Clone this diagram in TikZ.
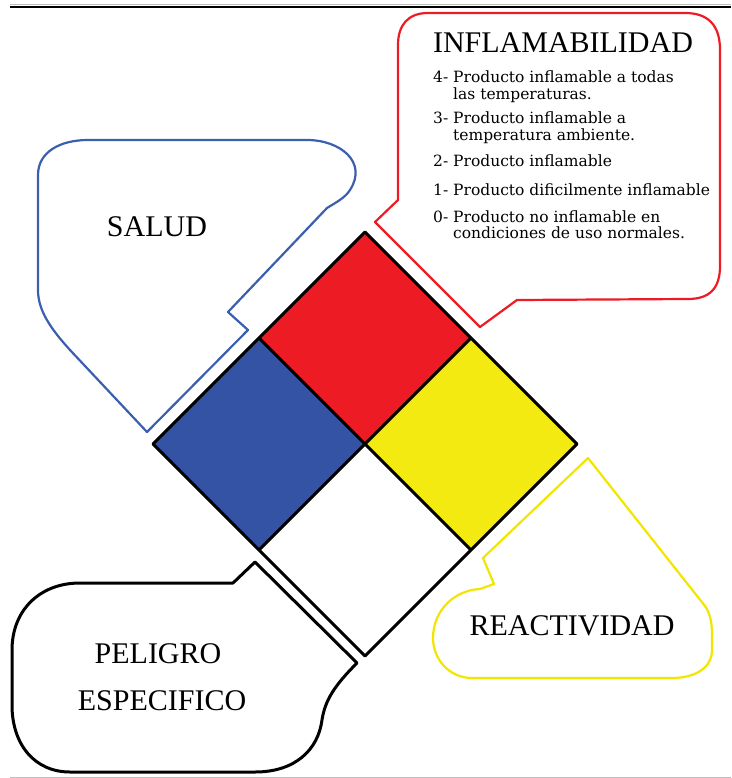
\documentclass[tikz,border=0pt]{standalone}
\usepackage{fontspec}
\setmainfont{Liberation Serif}
\newfontfamily\itemfont{DejaVu Serif}
\definecolor{firered}{HTML}{ED1C24}
\definecolor{healthblue}{HTML}{3453A4}
\definecolor{reactyellow}{HTML}{F2EA10}
\definecolor{bubbleblue}{HTML}{3A5FAE}
\definecolor{bubbleyellow}{HTML}{F2E600}
\newcommand{\twolines}[2]{\begin{tabular}[t]{@{}l@{}}#1\\\hspace*{20pt}#2\end{tabular}}

\begin{document}
\begin{tikzpicture}[x=1pt,y=-1pt,
  title/.style={font=\fontsize{30}{30}\selectfont, inner sep=0pt, anchor=base},
  item/.style={font=\itemfont\fontsize{15.5}{16}\selectfont, inner sep=0pt, anchor=base west},
  frame/.style={line width=3pt, line join=round},
  bubble/.style={line width=2.2pt, line join=round, fill=white}]
\useasboundingbox (0,0) rectangle (731,778);

% page rules
\coordinate (rulea) at (10,7);
\coordinate (ruleb) at (731,7);
\coordinate (rulec) at (10,777);
\coordinate (ruled) at (731,777);
\draw[line width=2pt] (rulea) -- (ruleb);
\draw[gray!50, line width=1pt] ([yshift=2.5pt]rulea) -- ([yshift=2.5pt]ruleb);
\draw[gray!50, line width=1pt] (rulec) -- (ruled);

% diamond
\coordinate (T) at (365,232);
\coordinate (L) at (153,444);
\coordinate (R) at (577,444);
\coordinate (B) at (365,656);
\coordinate (C) at (365,444);
\coordinate (TL) at (259,338);
\coordinate (TR) at (471,338);
\coordinate (BL) at (259,550);
\coordinate (BR) at (471,550);

% bubbles
\draw[bubble, draw=firered] (375,222) -- (480,327) -- (517,300) -- (688,299)
  .. controls (710,299) and (720,288) .. (720,266) -- (720,50)
  .. controls (720,25) and (708,13) .. (685,13) -- (428,13)
  .. controls (408,13) and (398,25) .. (398,45) -- (398,200) -- cycle;
\draw[bubble, draw=bubbleblue] (88,140) -- (307,140)
  .. controls (340,140) and (368,162) .. (350,190)
  .. controls (345,198) and (335,203) .. (327,208) -- (228,312) -- (248,330) -- (147,432)
  -- (70,350) .. controls (50,328) and (38,310) .. (38,290) -- (38,175)
  .. controls (38,152) and (60,140) .. (88,140) -- cycle;
\draw[bubble, draw=bubbleyellow] (588,458) -- (705,606)
  .. controls (710,613) and (712,622) .. (712,635) -- (712,650)
  .. controls (712,668) and (695,678) .. (672,678) -- (472,678)
  .. controls (450,678) and (433,660) .. (433,638)
  .. controls (433,610) and (455,590) .. (480,589) -- (494,584) -- (483,558) -- cycle;
\draw[bubble, draw=black, line width=3pt] (80,583) -- (233,583) -- (255,562) -- (357,663)
  .. controls (335,685) and (325,700) .. (322,720)
  .. controls (318,750) and (295,772) .. (255,772) -- (70,772)
  .. controls (35,772) and (12,745) .. (12,705) -- (12,650)
  .. controls (12,610) and (40,583) .. (80,583) -- cycle;

% squares
\fill[firered] (T) -- (TR) -- (C) -- (TL) -- cycle;
\fill[healthblue] (TL) -- (C) -- (BL) -- (L) -- cycle;
\fill[reactyellow] (TR) -- (R) -- (BR) -- (C) -- cycle;
\fill[white] (C) -- (BR) -- (B) -- (BL) -- cycle;
\draw[frame] (T) -- (R) -- (B) -- (L) -- cycle;
\path[frame]
  (TL) edge (BR)
  (TR) edge (BL);

% labels
\node[title] (salud) at (157,236) {SALUD};
\node[title] (inflam) at (563,53) {INFLAMABILIDAD};
\node[title] (reactiv) at (572,635) {REACTIVIDAD};
\node[title] (peligro) at (158,663) {PELIGRO};
\node[title] (especif) at (162,710) {ESPECIFICO};

\node[item] (cuatro) at (433,83) {\twolines{4- Producto inflamable a todas}{las temperaturas.}};
\node[item] (tres) at (433,124) {\twolines{3- Producto inflamable a}{temperatura ambiente.}};
\node[item] (dos) at (433,167) {2- Producto inflamable};
\node[item] (uno) at (433,195) {1- Producto dificilmente inflamable};
\node[item] (cero) at (433,222) {\twolines{0- Producto no inflamable en}{condiciones de uso normales.}};
\end{tikzpicture}
\end{document}
